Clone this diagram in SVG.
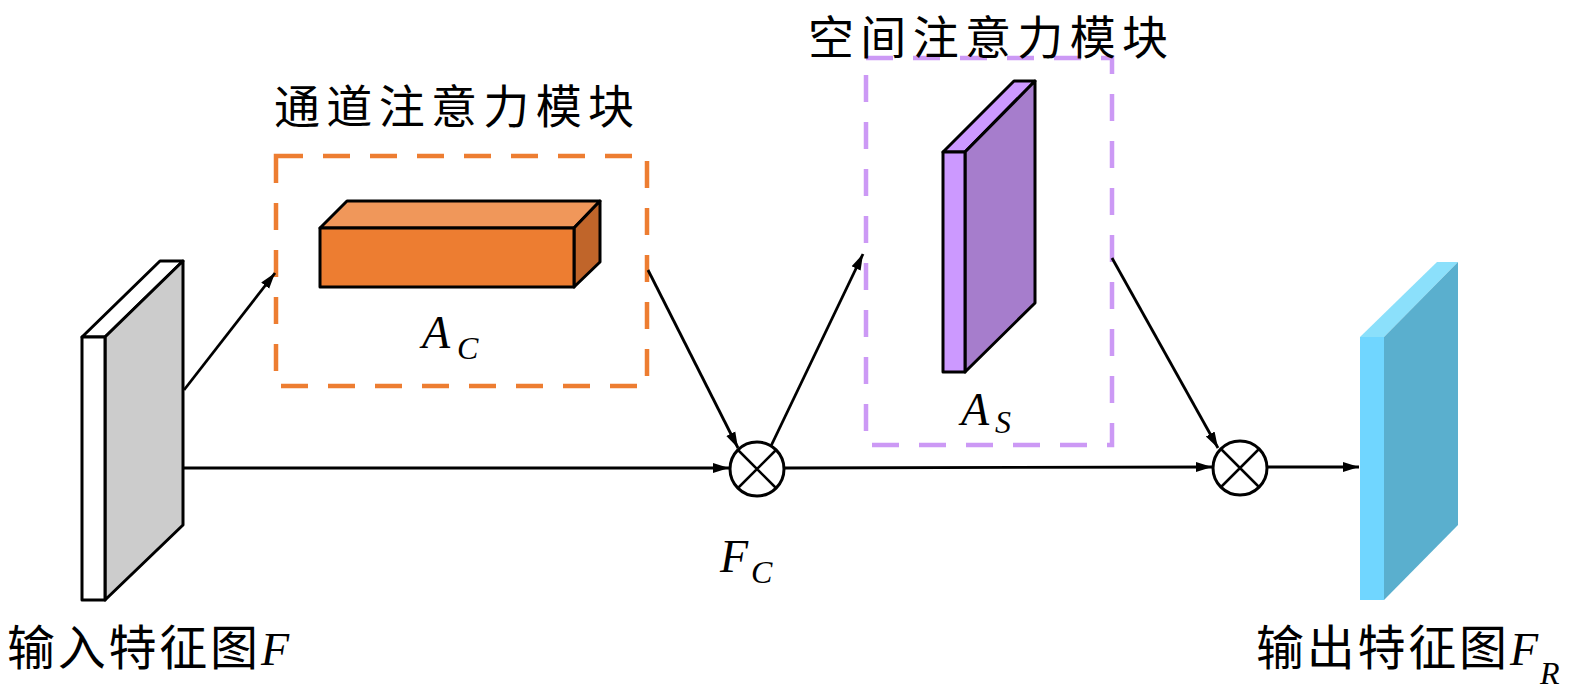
<svg xmlns="http://www.w3.org/2000/svg" width="1575" height="689" viewBox="0 0 1575 689">
<style>
.cjk{font-family:"Noto Sans CJK SC","Noto Sans CJK JP",sans-serif;font-size:48px;fill:#000}
.title{font-size:46px}
.math{font-family:"Liberation Serif",serif;font-style:italic;fill:#000}
.edge{stroke:#000;stroke-width:2.8;fill:none;marker-end:url(#ah)}
.ol{stroke:#000;stroke-width:3;stroke-linejoin:round}
.op{fill:#fff;stroke:#000;stroke-width:3}
</style>
<defs>
<marker id="ah" markerUnits="userSpaceOnUse" markerWidth="18" markerHeight="12" refX="16" refY="6" orient="auto">
<path d="M0,1 L16,6 L0,11 Z" fill="#000"/>
</marker>
</defs>
<rect width="1575" height="689" fill="#fff"/>

<g id="input">
<polygon class="ol" points="82,337 160,261 183,261 105,337" fill="#fff"/>
<polygon class="ol" points="105,337 183,261 183,525 105,600" fill="#cccccc"/>
<rect class="ol" x="82" y="337" width="23" height="263" fill="#fff"/>
<text class="cjk" x="7" y="665" textLength="251" lengthAdjust="spacing">输入特征图</text>
<text class="math" x="261" y="665" font-size="46">F</text>
</g>

<g id="channel">
<rect x="276" y="156" width="371" height="230" fill="none" stroke="#ED7D31" stroke-width="4.5" stroke-dasharray="27 20"/>
<polygon class="ol" points="320,228 347,201 600,201 574,228" fill="#F0975A"/>
<polygon class="ol" points="574,228 600,201 600,262 574,287" fill="#C0652A"/>
<rect class="ol" x="320" y="228" width="254" height="59" fill="#ED7D31"/>
<text class="cjk title" x="274" y="123" textLength="360" lengthAdjust="spacing">通道注意力模块</text>
<text class="math" x="422" y="348" font-size="46">A</text>
<text class="math" x="457" y="359" font-size="32">C</text>
</g>

<g id="spatial">
<rect x="866" y="58" width="246" height="387" fill="none" stroke="#CC99F5" stroke-width="4.5" stroke-dasharray="27 20"/>
<polygon class="ol" points="943,152 1014,81 1035,81 965,152" fill="#CC99FF"/>
<polygon class="ol" points="965,152 1035,81 1035,303 965,372" fill="#A67DCC"/>
<rect class="ol" x="943" y="152" width="22" height="220" fill="#CC99FF"/>
<text class="cjk title" x="808" y="54" textLength="360" lengthAdjust="spacing">空间注意力模块</text>
<text class="math" x="961" y="425" font-size="46">A</text>
<text class="math" x="995" y="433" font-size="32">S</text>
</g>

<g id="mul1">
<circle class="op" cx="757" cy="469" r="27"/>
<path d="M738,450 L776,488 M776,450 L738,488" stroke="#000" stroke-width="2.5"/>
<text class="math" x="720" y="572" font-size="46">F</text>
<text class="math" x="751" y="583" font-size="32">C</text>
</g>

<g id="mul2">
<circle class="op" cx="1240" cy="468" r="27"/>
<path d="M1221,449 L1259,487 M1259,449 L1221,487" stroke="#000" stroke-width="2.5"/>
</g>

<g id="output">
<polygon points="1360,337 1437,262 1458,262 1384,337" fill="#8BE0FB"/>
<polygon points="1384,337 1458,262 1458,525 1384,600" fill="#5AAFCE"/>
<rect x="1360" y="337" width="24" height="263" fill="#70D6FF"/>
<text class="cjk" x="1256" y="665" textLength="251" lengthAdjust="spacing">输出特征图</text>
<text class="math" x="1510" y="665" font-size="46">F</text>
<text class="math" x="1540" y="684" font-size="32">R</text>
</g>

<g id="connectors">
<line class="edge" x1="184" y1="390" x2="275" y2="273"/>
<line class="edge" x1="183" y1="468" x2="729" y2="468"/>
<line class="edge" x1="648" y1="270" x2="738" y2="448"/>
<line class="edge" x1="771" y1="446" x2="863" y2="254"/>
<line class="edge" x1="785" y1="468" x2="1212" y2="467"/>
<line class="edge" x1="1112" y1="258" x2="1218" y2="448"/>
<line class="edge" x1="1268" y1="467" x2="1359" y2="467"/>
</g>
</svg>
